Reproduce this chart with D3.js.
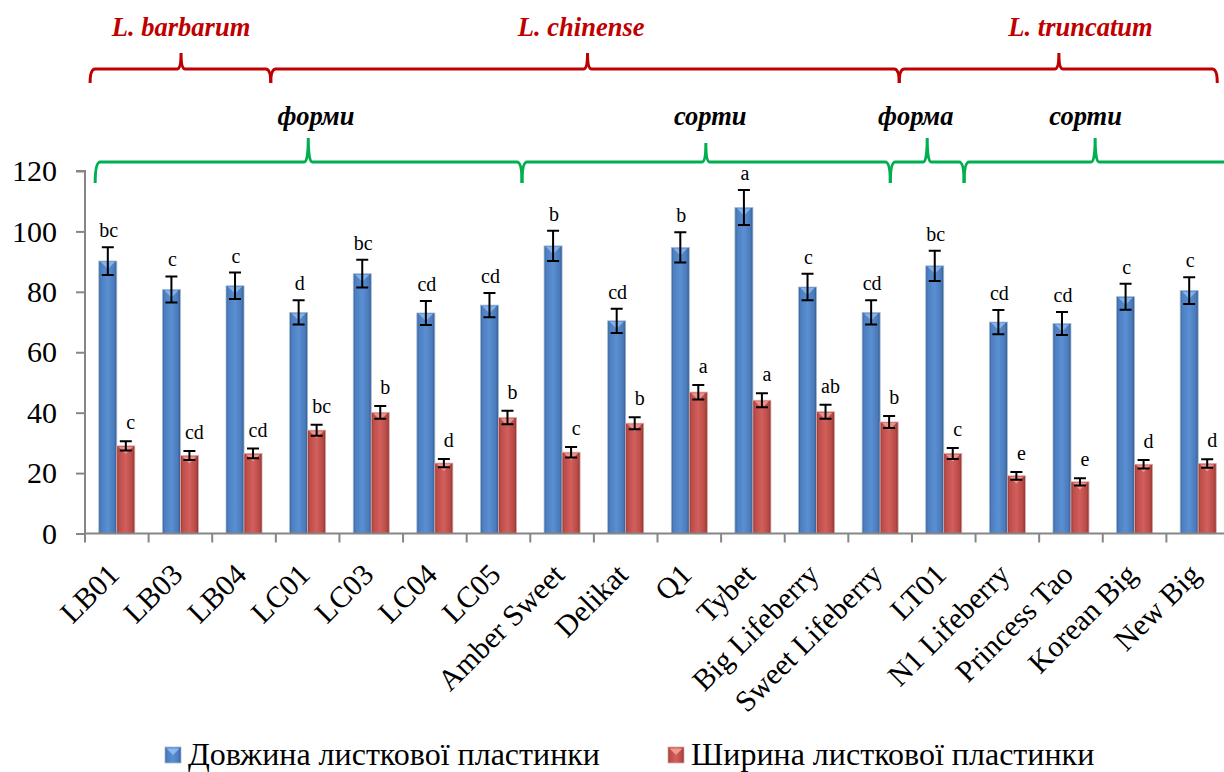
<!DOCTYPE html>
<html>
<head>
<meta charset="utf-8">
<script src="https://cdn.jsdelivr.net/npm/d3@7"></script>
<style>
  html, body { margin: 0; padding: 0; background: #fff; }
  svg { display: block; }
  text { font-family: "Liberation Serif", "Times New Roman", serif; }
</style>
</head>
<body>
<svg id="chart" width="1224" height="772"></svg>
<script>
// Leaf blade size of Lycium forms and cultivars (mean ± error)
const categories = ["LB01", "LB03", "LB04", "LC01", "LC03", "LC04", "LC05",
  "Amber Sweet", "Delikat", "Q1", "Tybet", "Big Lifeberry", "Sweet Lifeberry",
  "LT01", "N1 Lifeberry", "Princess Tao", "Korean Big", "New Big"];

const seriesNames = ["Довжина листкової пластинки", "Ширина листкової пластинки"];

const lengthValues = [90.2, 80.8, 82.0, 73.2, 86.0, 73.0, 75.6, 95.2, 70.4, 94.7,
  107.9, 81.6, 73.2, 88.6, 70.0, 69.5, 78.4, 80.4];
const lengthErrors = [4.6, 4.3, 4.4, 4.0, 4.6, 4.0, 4.0, 5.0, 4.0, 5.0,
  5.8, 4.4, 4.0, 5.0, 4.0, 3.8, 4.3, 4.4];
const lengthLetters = ["bc", "c", "c", "d", "bc", "cd", "cd", "b", "cd", "b",
  "a", "c", "cd", "bc", "cd", "cd", "c", "c"];

const widthValues = [29.0, 25.8, 26.5, 34.2, 40.1, 23.3, 38.4, 26.9, 36.5, 46.8,
  44.1, 40.3, 36.9, 26.5, 19.1, 17.1, 22.9, 23.2];
const widthErrors = [1.5, 1.5, 1.6, 1.8, 2.1, 1.4, 2.2, 1.7, 2.0, 2.4,
  2.3, 2.3, 2.0, 1.8, 1.3, 1.2, 1.4, 1.4];
const widthLetters = ["c", "cd", "cd", "bc", "b", "d", "b", "c", "b", "a",
  "a", "ab", "b", "c", "e", "e", "d", "d"];

const yTicks = [0, 20, 40, 60, 80, 100, 120];

// Species groups (first and last category covered)
const speciesGroups = [
  { label: "L. barbarum", from: "LB01", to: "LB04" },
  { label: "L. chinense", from: "LC01", to: "Sweet Lifeberry" },
  { label: "L. truncatum", from: "LT01", to: "New Big" }
];
// Forms / cultivars groups
const typeGroups = [
  { label: "форми", from: "LB01", to: "LC05" },
  { label: "сорти", from: "Amber Sweet", to: "Sweet Lifeberry" },
  { label: "форма", from: "LT01", to: "LT01" },
  { label: "сорти", from: "N1 Lifeberry", to: "New Big" }
];

const svg = d3.select("#chart");
const defs = svg.append("defs");

const plotLeft = 85, plotRight = 1230, plotTop = 171, plotBottom = 533.5;

const x = d3.scaleBand().domain(categories).range([plotLeft, plotRight]).paddingInner(0).paddingOuter(0);
const bw = x.bandwidth();
const barW = 18;
const xs = d3.scaleBand().domain([0, 1]).range([bw / 2 - barW, bw / 2 + barW]);
const y = d3.scaleLinear().domain([0, 120]).range([plotBottom, plotTop]);

// bevelled bar fills
const palettes = [
  { id: "gBlue", stops: ["#365f95", "#4c7fc0", "#5a8fd2", "#4a7bbb", "#34598b"], tri: "#8ab8f0", edge: "#a9bcd6" },
  { id: "gRed", stops: ["#923532", "#bd4d49", "#d25f5b", "#b84a46", "#8c3330"], tri: "#f09a96", edge: "#d9aaa9" }
];
palettes.forEach(p => {
  const g = defs.append("linearGradient").attr("id", p.id).attr("x1", "0").attr("x2", "1").attr("y1", "0").attr("y2", "0");
  const offs = [0, 0.12, 0.5, 0.85, 1];
  p.stops.forEach((c, i) => g.append("stop").attr("offset", offs[i]).attr("stop-color", c));
});

const series = [
  { vals: lengthValues, errs: lengthErrors, letters: lengthLetters, pal: palettes[0], dx: 1, dy: 10 },
  { vals: widthValues, errs: widthErrors, letters: widthLetters, pal: palettes[1], dx: 5, dy: 12 }
];

// axes
const axisColor = "#868686";
const yAxis = svg.append("g").attr("transform", `translate(${plotLeft},0)`)
  .call(d3.axisLeft(y).tickValues(yTicks).tickSize(9).tickPadding(19).tickFormat(d3.format("d")));
yAxis.select(".domain").attr("stroke", axisColor).attr("stroke-width", 2).attr("d", `M-9,${plotTop}H0V${plotBottom}`);
yAxis.selectAll(".tick line").attr("stroke", axisColor).attr("stroke-width", 2);
yAxis.selectAll(".tick text").attr("fill", "#000").style("font-size", "30px");

// bars
series.forEach((s, si) => {
  const g = svg.append("g");
  categories.forEach((c, i) => {
    const x0 = x(c) + xs(si);
    const top = y(s.vals[i]);
    g.append("rect").attr("x", x0).attr("y", top).attr("width", barW)
      .attr("height", y(0) - top).attr("fill", `url(#${s.pal.id})`)
      .attr("stroke", s.pal.edge).attr("stroke-width", 0.8);
    // top bevel highlight
    g.append("path")
      .attr("d", `M${x0 + 2},${top + 1}L${x0 + barW - 2},${top + 1}L${x0 + barW / 2},${top + 8}Z`)
      .attr("fill", s.pal.tri).attr("opacity", 0.9);
  });
});

// x axis baseline and ticks
const xg = svg.append("g");
xg.append("line").attr("x1", plotLeft).attr("x2", plotRight).attr("y1", plotBottom).attr("y2", plotBottom)
  .attr("stroke", axisColor).attr("stroke-width", 2);
categories.concat([null]).forEach(c => {
  const xx = c ? x(c) : plotRight;
  xg.append("line").attr("x1", xx).attr("x2", xx).attr("y1", plotBottom).attr("y2", plotBottom + 9)
    .attr("stroke", axisColor).attr("stroke-width", 2);
});
categories.forEach(c => {
  const cx = x(c) + bw / 2 + 4, cy = plotBottom + 43;
  xg.append("text").attr("transform", `translate(${cx},${cy}) rotate(-45)`)
    .attr("text-anchor", "end").style("font-size", "30px").text(c);
});

// error bars and significance letters
series.forEach((s, si) => {
  const g = svg.append("g");
  categories.forEach((c, i) => {
    const cx = x(c) + xs(si) + barW / 2;
    const hi = y(s.vals[i] + s.errs[i]), lo = y(s.vals[i] - s.errs[i]);
    g.append("path").attr("d", `M${cx},${hi}V${lo}M${cx - 6},${hi}H${cx + 6}M${cx - 6},${lo}H${cx + 6}`)
      .attr("stroke", "#000").attr("stroke-width", 2).attr("fill", "none");
    g.append("text").attr("x", cx + s.dx).attr("y", hi - s.dy).attr("text-anchor", "middle")
      .style("font-size", "20px").text(s.letters[i]);
  });
});

// curly brace along a horizontal line
function brace(x0, x1, xm, yLine, yEnd, yTip) {
  const r = 5, w = 4;
  return `M${x0},${yEnd}Q${x0},${yLine} ${x0 + r},${yLine}` +
    `L${xm - w},${yLine}Q${xm},${yLine} ${xm},${yTip}Q${xm},${yLine} ${xm + w},${yLine}` +
    `L${x1 - r},${yLine}Q${x1},${yLine} ${x1},${yEnd}`;
}

// group edges expressed in category units (start of band = integer index)
function edgeX(u) { return plotLeft + u * bw; }

const speciesEdges = [[0.08, 2.92], [2.92, 12.8], [12.8, 17.8]];
const speciesMid = [1.51, 7.9, 15.31];
const speciesText = [1.51, 7.8, 15.65];
const red = "#c00000";
speciesGroups.forEach((gr, i) => {
  const [a, b] = speciesEdges[i];
  svg.append("path").attr("d", brace(edgeX(a), edgeX(b), edgeX(speciesMid[i]), 69, 83, 53))
    .attr("fill", "none").attr("stroke", red).attr("stroke-width", 3);
  svg.append("text").attr("x", edgeX(speciesText[i])).attr("y", 36).attr("text-anchor", "middle")
    .attr("fill", red).style("font-size", "26.5px").style("font-weight", "bold").style("font-style", "italic")
    .text(gr.label);
});

const typeEdges = [[0.16, 6.87], [6.87, 12.66], [12.66, 13.82], [13.82, 18.3]];
const typeMid = [3.51, 9.76, 13.24, 15.88];
const typeText = [3.63, 9.83, 13.06, 15.73];
const typeTip = [138, 143, 138, 138];
const green = "#00b050";
typeGroups.forEach((gr, i) => {
  const [a, b] = typeEdges[i];
  svg.append("path").attr("d", brace(edgeX(a), edgeX(b), edgeX(typeMid[i]), 162, 183, typeTip[i]))
    .attr("fill", "none").attr("stroke", green).attr("stroke-width", 3);
  svg.append("text").attr("x", edgeX(typeText[i])).attr("y", 125).attr("text-anchor", "middle")
    .attr("fill", "#000").style("font-size", "26.5px").style("font-weight", "bold").style("font-style", "italic")
    .text(gr.label);
});

// legend
const legendX = [165, 668];
seriesNames.forEach((name, i) => {
  const g = svg.append("g").attr("transform", `translate(${legendX[i]},747)`);
  g.append("rect").attr("width", 16).attr("height", 16).attr("fill", `url(#${palettes[i].id})`)
    .attr("stroke", palettes[i].edge).attr("stroke-width", 0.8);
  g.append("path").attr("d", "M1.5,1.5L14.5,1.5L8,8Z").attr("fill", palettes[i].tri);
  g.append("text").attr("x", 23).attr("y", 18).style("font-size", "32px").text(name);
});
</script>
</body>
</html>
